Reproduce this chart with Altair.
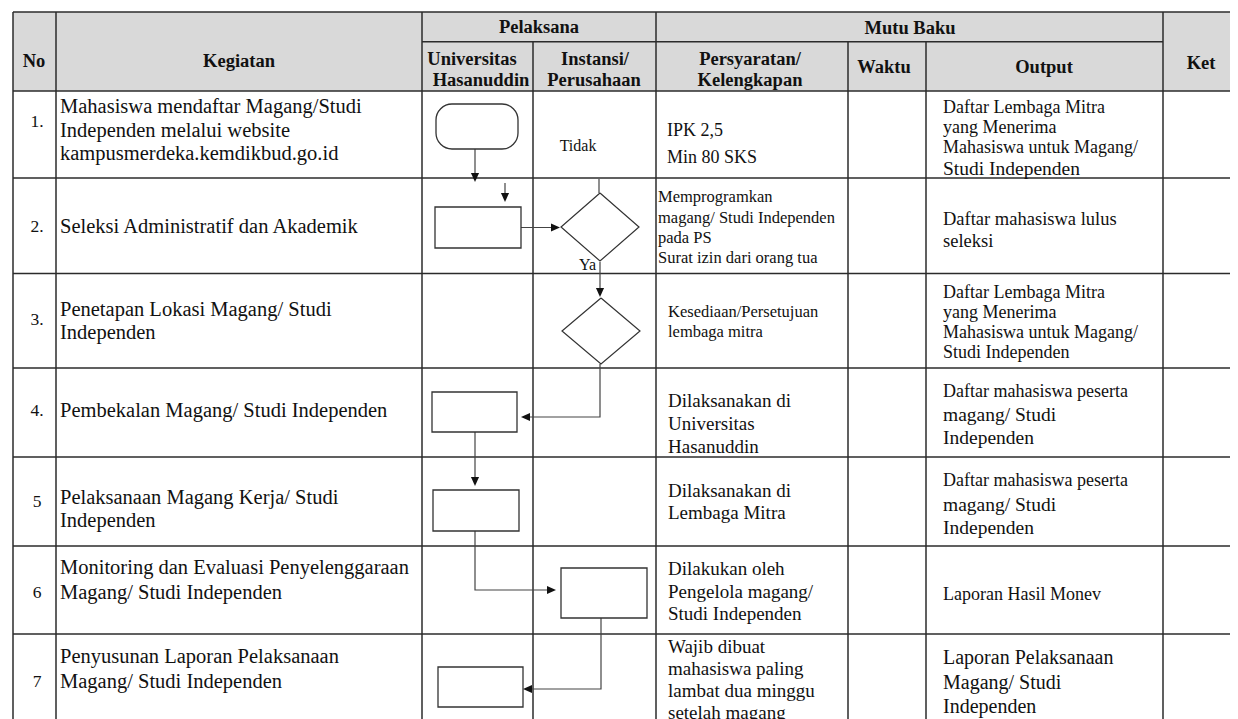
import altair as alt
import pandas as pd

# ---------------- view window in reference pixel coordinates ----------------
VIEW_X = [8, 1230]
VIEW_Y = [8, 719]
WIDTH = VIEW_X[1] - VIEW_X[0]
HEIGHT = VIEW_Y[1] - VIEW_Y[0]

FONT = "Liberation Serif"
INK = "#111111"
LINE = "#2b2b2b"

# ---------------- table grid ----------------
grid_left, grid_right, grid_top, grid_bottom = 13, 1238, 12, 719
full_col_x = [13, 56, 422, 656, 1163]          # lines through the whole header
sub_col_x = [533, 848, 926]                    # lines starting below group header
row_y = [12, 91, 178, 273.5, 368, 457, 546, 634]
group_split_y = 41.7
group_left, group_right = 422, 1163

# header labels
hdr_text = ["No", "Kegiatan", "Pelaksana", "Mutu Baku", "Universitas", "Hasanuddin",
            "Instansi/", "Perusahaan", "Persyaratan/", "Kelengkapan", "Waktu", "Output", "Ket"]
hdr_x = [34, 239, 539, 910, 472, 481, 595, 594, 750, 750, 884, 1044, 1201]
hdr_y = [61, 61, 27, 28, 59, 80, 59, 80, 59, 80, 67, 67, 63]

# row numbers
no_text = ["1.", "2.", "3.", "4.", "5", "6", "7"]
no_y = [122, 227, 320, 411, 502, 593, 682]

# Kegiatan column
keg_text = ["Mahasiswa mendaftar Magang/Studi", "Independen melalui website",
            "kampusmerdeka.kemdikbud.go.id",
            "Seleksi Administratif dan Akademik",
            "Penetapan Lokasi Magang/ Studi", "Independen",
            "Pembekalan Magang/ Studi Independen",
            "Pelaksanaan Magang Kerja/ Studi", "Independen",
            "Monitoring dan Evaluasi Penyelenggaraan", "Magang/ Studi Independen",
            "Penyusunan Laporan Pelaksanaan", "Magang/ Studi Independen"]
keg_y = [107, 130.5, 154, 227, 310, 333, 411, 498, 521, 568, 593, 657, 682]

# Persyaratan / Kelengkapan column
req_text = ["IPK 2,5", "Min 80 SKS",
            "Memprogramkan", "magang/ Studi Independen", "pada PS", "Surat izin dari orang tua",
            "Kesediaan/Persetujuan", "lembaga mitra",
            "Dilaksanakan di", "Universitas", "Hasanuddin",
            "Dilaksanakan di", "Lembaga Mitra",
            "Dilakukan oleh", "Pengelola magang/", "Studi Independen",
            "Wajib dibuat", "mahasiswa paling", "lambat dua minggu", "setelah magang"]
req_x = [667, 667, 658, 658, 658, 658, 668, 668] + [668] * 12
req_y = [131, 158, 197, 217.5, 237.5, 257.5, 312, 332,
         401, 424, 447, 491, 513, 569, 591.5, 614, 647, 669, 691, 713]
req_size = [18, 18, 16.5, 16.5, 16.5, 16.5, 16.5, 16.5] + [19] * 12

# Output column
out_text = ["Daftar Lembaga Mitra", "yang Menerima", "Mahasiswa untuk Magang/", "Studi Independen",
            "Daftar mahasiswa lulus", "seleksi",
            "Daftar Lembaga Mitra", "yang Menerima", "Mahasiswa untuk Magang/", "Studi Independen",
            "Daftar mahasiswa peserta", "magang/ Studi", "Independen",
            "Daftar mahasiswa peserta", "magang/ Studi", "Independen",
            "Laporan Hasil Monev",
            "Laporan Pelaksanaan", "Magang/ Studi", "Independen"]
out_y = [108, 128, 148, 168.5, 219, 241, 293, 313, 333, 353,
         391.5, 415, 438, 481, 505, 527.5, 595, 658, 683, 706.5]
out_size = [18, 18, 18, 19.5, 18.5, 18.5, 18, 18, 18, 18,
            18, 19.5, 19.5, 18, 19.5, 19.5, 18, 20, 20, 20]

# flowchart labels
flow_text = ["Tidak", "Ya"]
flow_x = [578, 596]
flow_y = [146, 265]

# ---------------- flowchart shapes ----------------
term_box = [436, 518, 104, 149]                 # x, x2, y, y2 (rounded)
box_x = [435, 432, 433, 561, 438]
box_x2 = [521, 517, 519, 647, 523]
box_y = [207, 392, 490, 568, 667]
box_y2 = [248, 432, 531, 618, 707]

dia_cx = [600, 601]
dia_cy = [227, 331]
dia_hw = [39, 39]
dia_hh = [34, 33]

# connectors: polylines (id, x, y)
conn_id = [1, 1, 2, 2, 3, 3, 4, 4, 5, 5, 6, 6, 6, 7, 7, 8, 8, 8, 9, 9, 9]
conn_x = [475, 475, 505, 505, 599, 599, 521, 556, 600, 600,
          600, 600, 524, 475, 475, 475, 475, 552, 601, 601, 526]
conn_y = [149, 178, 183, 198, 179, 193, 227.5, 227.5, 262, 292,
          364, 417, 417, 432, 482, 531, 590, 590, 618, 689, 689]

# arrow heads: tip position and direction (deg, 0 = down, 90 = left, 270 = right)
head_x = [475, 505, 560, 600, 521, 475, 556, 523]
head_y = [182, 202, 227.5, 297, 417, 486, 590, 689]
head_angle = [0, 0, 270, 0, 90, 0, 270, 90]

# ---------------- data frames ----------------
seg_rows = []
for x in full_col_x:
    seg_rows.append(dict(x=x, x2=x, y=grid_top, y2=grid_bottom))
for x in sub_col_x:
    seg_rows.append(dict(x=x, x2=x, y=group_split_y, y2=grid_bottom))
for y in row_y:
    seg_rows.append(dict(x=grid_left, x2=grid_right, y=y, y2=y))
seg_rows.append(dict(x=group_left, x2=group_right, y=group_split_y, y2=group_split_y))
grid_df = pd.DataFrame(seg_rows)

hdr_fill_df = pd.DataFrame([dict(x=grid_left, x2=grid_right, y=grid_top, y2=row_y[1])])

term_df = pd.DataFrame([dict(x=term_box[0], x2=term_box[1], y=term_box[2], y2=term_box[3])])
box_df = pd.DataFrame(dict(x=box_x, x2=box_x2, y=box_y, y2=box_y2))

dia_rows = []
for i, (cx, cy, hw, hh) in enumerate(zip(dia_cx, dia_cy, dia_hw, dia_hh)):
    pts = [(cx, cy - hh), (cx + hw, cy), (cx, cy + hh), (cx - hw, cy), (cx, cy - hh)]
    for k, (px, py) in enumerate(pts):
        dia_rows.append(dict(id=i, o=k, x=px, y=py))
dia_df = pd.DataFrame(dia_rows)

conn_df = pd.DataFrame(dict(id=conn_id, x=conn_x, y=conn_y))
conn_df["o"] = range(len(conn_df))
head_df = pd.DataFrame(dict(x=head_x, y=head_y, angle=head_angle))

hdr_df = pd.DataFrame(dict(x=hdr_x, y=hdr_y, t=hdr_text))
no_df = pd.DataFrame(dict(x=[37] * len(no_text), y=no_y, t=no_text))
keg_df = pd.DataFrame(dict(x=[60] * len(keg_text), y=keg_y, t=keg_text))
req_df = pd.DataFrame(dict(x=req_x, y=req_y, t=req_text, s=req_size))
out_df = pd.DataFrame(dict(x=[943] * len(out_text), y=out_y, t=out_text, s=out_size))
tidak_df = pd.DataFrame(dict(x=flow_x[:1], y=flow_y[:1], t=flow_text[:1]))
ya_df = pd.DataFrame(dict(x=flow_x[1:], y=flow_y[1:], t=flow_text[1:]))

# ---------------- encodings ----------------
XS = alt.Scale(domain=VIEW_X, nice=False, zero=False)
YS = alt.Scale(domain=VIEW_Y, nice=False, zero=False, reverse=True)


def X(f="x"):
    return alt.X(f"{f}:Q", scale=XS, axis=None)


def Y(f="y"):
    return alt.Y(f"{f}:Q", scale=YS, axis=None)


hdr_fill = alt.Chart(hdr_fill_df).mark_rect(fill="#d9d9d9", strokeWidth=0).encode(
    x=X(), x2="x2:Q", y=Y(), y2="y2:Q")

grid = alt.Chart(grid_df).mark_rule(color=LINE, strokeWidth=1.5).encode(
    x=X(), x2="x2:Q", y=Y(), y2="y2:Q")

term = alt.Chart(term_df).mark_rect(fill="white", stroke="#333333", strokeWidth=1.3,
                                    cornerRadius=16).encode(
    x=X(), x2="x2:Q", y=Y(), y2="y2:Q")

boxes = alt.Chart(box_df).mark_rect(fill="white", stroke="#333333", strokeWidth=1.3).encode(
    x=X(), x2="x2:Q", y=Y(), y2="y2:Q")

diamonds = alt.Chart(dia_df).mark_line(color="#333333", strokeWidth=1.2).encode(
    x=X(), y=Y(), detail="id:N", order="o:Q")

connectors = alt.Chart(conn_df).mark_line(color="#444444", strokeWidth=1.2).encode(
    x=X(), y=Y(), detail="id:N", order="o:Q")

heads = alt.Chart(head_df).mark_point(
    shape="M0,0L-0.9,-2L0.9,-2Z", filled=True, size=81, color="#111111", opacity=1,
    strokeWidth=0).encode(
    x=X(), y=Y(), angle=alt.Angle("angle:Q", scale=None))


def text_layer(df, align, size=None, bold=False):
    kw = dict(font=FONT, align=align, baseline="middle", color=INK,
              fontWeight="bold" if bold else "normal")
    if size is not None:
        kw["fontSize"] = size
    enc = dict(x=X(), y=Y(), text="t:N")
    if size is None:
        enc["size"] = alt.Size("s:Q", scale=None, legend=None)
    return alt.Chart(df).mark_text(**kw).encode(**enc)


headers = text_layer(hdr_df, "center", size=18.5, bold=True)
numbers = text_layer(no_df, "center", size=17.5)
kegiatan = text_layer(keg_df, "left", size=20.5)
requirements = text_layer(req_df, "left")
outputs = text_layer(out_df, "left")
tidak = text_layer(tidak_df, "center", size=16)
ya = text_layer(ya_df, "right", size=16)

chart = alt.layer(
    hdr_fill, grid, connectors, term, boxes, diamonds, heads,
    headers, numbers, kegiatan, requirements, outputs, tidak, ya
).properties(
    width=WIDTH, height=HEIGHT, padding=0, autosize=alt.AutoSizeParams(type="none"),
    background="white"
).configure_view(stroke=None)

chart.save("out.html", embed_options={"renderer": "svg", "actions": False})
